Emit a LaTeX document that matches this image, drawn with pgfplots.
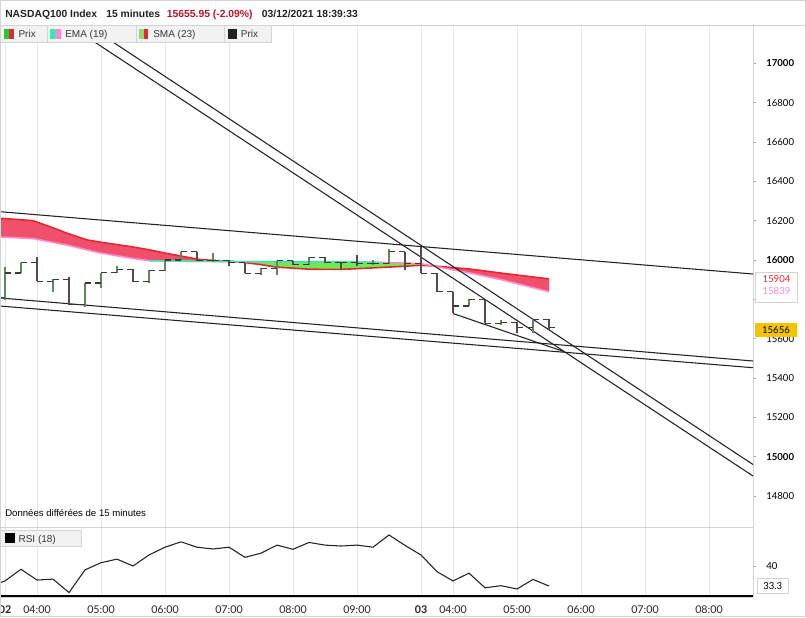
\documentclass[border=0pt]{standalone}
\usepackage{pgfplots}
\pgfplotsset{compat=1.18}
\usepackage{pgfplotstable}
\usepgfplotslibrary{fillbetween}
\usepackage{fontspec}
\setmainfont{Liberation Sans}
\newfontfamily\lato{Lato}

\definecolor{smared}{HTML}{E8262E}
\definecolor{emapink}{HTML}{FF8AC8}
\definecolor{bandred}{HTML}{F0506C}
\definecolor{bandgreen}{HTML}{6CEB52}
\definecolor{emateal}{HTML}{3DE8B0}
\definecolor{upbar}{HTML}{5B8A5B}
\definecolor{downbar}{HTML}{5E4646}
\definecolor{tickc}{HTML}{3A3A3A}
\definecolor{gridc}{HTML}{E6E6E6}
\definecolor{framec}{HTML}{D4D4D4}
\definecolor{legfill}{HTML}{F2F2F2}
\definecolor{hdrred}{HTML}{B5162B}
\definecolor{yell}{HTML}{F5C400}
\definecolor{txt}{HTML}{222222}
\definecolor{sgreen}{HTML}{3DBE3D}
\definecolor{smagreen}{HTML}{7BE86A}

% OHLC bars, rising (close >= open)
\pgfplotstableread{
i o h l c
-2 15807 15964 15797 15934
-1 15934 15985 15934 15985
1 15893 15903 15837 15903
3 15776 15883 15761 15883
4 15883 15935 15858 15935
5 15935 15970 15932 15954
7 15890 15949 15882 15946
8 15946 16000 15946 16000
9 16000 16042 16000 16042
11 15996 16034 15991 15996
14 15932 15958 15924 15958
15 15958 15996 15924 15996
17 15975 16014 15975 16014
21 15983 16000 15975 15983
22 15983 16054 15980 16042
27 15766 15800 15766 15800
29 15678 15695 15670 15683
31 15658 15698 15627 15698
}\upbars

% OHLC bars, falling
\pgfplotstableread{
i o h l c
0 15985 16015 15893 15893
2 15903 15914 15771 15776
6 15954 15954 15887 15890
10 16042 16042 15996 15996
12 15996 16000 15969 15986
13 15986 15986 15932 15932
16 15996 15996 15975 15975
18 16014 16014 15986 15986
19 15986 15986 15949 15986
20 15986 16025 15969 15983
23 16042 16042 15949 15980
24 15980 16068 15932 15932
25 15932 15932 15839 15839
26 15839 15839 15729 15766
28 15800 15800 15678 15678
30 15683 15686 15627 15658
32 15698 15698 15644 15656
}\downbars

% SMA (23)
\pgfplotstableread{
x y
-2.3125 16212
-0.25 16200
0.81 16169
1.88 16136
3.13 16102
3.94 16091
6 16066
7.06 16051
8.13 16033
9.13 16018
10.19 16002
12.69 15990
13.94 15977
14.94 15964
17.06 15953
18.94 15952
20.81 15959
22.69 15967
23.94 15973
24.75 15970
27.06 15954
29.13 15932
32 15904
}\smatab

% EMA (19)
\pgfplotstableread{
x y
-2.3125 16117
-0.25 16109
1.88 16076
3.94 16036
6 16008
7.06 15996
10.19 15993
14.94 15991
18.94 15991
21.44 15988
23.94 15982
25 15966
27.06 15934
29.13 15898
32 15839
}\ematab

% RSI (18)
\pgfplotstableread{
x y
-3 33.0
-2 35.0
-1 38.9
0 35.3
1 35.6
2 31.1
3 38.7
4 41.1
5 42.3
6 40.0
7 43.7
8 46.3
9 48.1
10 46.3
11 45.7
12 46.3
13 42.9
14 44.3
15 47.0
16 45.6
17 47.9
18 47.0
19 46.7
20 47.0
21 46.3
22 50.4
23 46.9
24 43.7
25 38.1
26 35.0
27 37.6
28 32.7
29 33.4
30 32.3
31 35.5
32 33.3
}\rsitab

\pgfplotsset{
  barv/.style={draw=none, forget plot, error bars/.cd, y dir=plus, y explicit, error mark=none,
     error bar style={draw=#1, line width=0.8pt}},
  barl/.style={draw=none, forget plot, error bars/.cd, x dir=minus, x fixed=0.38, error mark=none,
     error bar style={draw=tickc, line width=0.8pt}},
  barr/.style={draw=none, forget plot, error bars/.cd, x dir=plus, x fixed=0.38, error mark=none,
     error bar style={draw=tickc, line width=0.8pt}},
}

\begin{document}
\begin{tikzpicture}

% ---------------- price panel
\begin{axis}[
  at={(0pt,-19.5pt)}, anchor=north west, scale only axis,
  width=564.75pt, height=375.75pt,
  xmin=-2.3125, xmax=44.75, ymin=14642.6, ymax=17189.6,
  axis line style={draw=framec, line width=0.75pt},
  xtick={-2,0,4,8,12,16,20,24,26,30,34,38,42}, xticklabels={},
  xmajorgrids, grid style={draw=gridc, line width=0.75pt},
  xtick style={draw=none},
  ytick={14800,15000,15200,15400,15600,15800,16000,16200,16400,16600,16800,17000},
  yticklabels={14800,\textbf{15000},15200,15400,15600,15800,\textbf{16000},16200,16400,16600,16800,\textbf{17000}},
  ytick pos=right, yticklabel pos=right,
  tick align=outside, major tick length=2.25pt,
  ytick style={draw=gray!70, line width=0.5pt},
  yticklabel style={font=\lato\fontsize{7.2}{8}\selectfont, text=black, anchor=west, inner sep=0pt, xshift=7.5pt},
]
\addplot[draw=none, name path=sma, forget plot] table[x=x,y=y] {\smatab};
\addplot[draw=none, name path=ema, forget plot] table[x=x,y=y] {\ematab};
\addplot[draw=none] fill between[of=sma and ema, split,
   every segment no 0/.style={fill=bandred},
   every segment no 1/.style={fill=bandgreen},
   every segment no 2/.style={fill=bandred}];
\addplot[smared, line width=1.2pt] table[x=x,y=y] {\smatab};
\addplot[emapink, line width=1.2pt] table[x=x,y=y] {\ematab};
\addplot[emateal, line width=1.2pt, restrict x to domain=6.9:21.6] table[x=x,y=y] {\ematab};

% trend lines
\addplot[txt, line width=0.8pt] coordinates {(-2.3125,16245.5) (44.75,15928.8)};
\addplot[txt, line width=0.8pt] coordinates {(-2.3125,15807) (44.75,15486.5)};
\addplot[txt, line width=0.8pt] coordinates {(-2.3125,15766) (44.75,15452.4)};
\addplot[txt, line width=0.8pt] coordinates {(2.08,17189.6) (44.75,14901.8)};
\addplot[txt, line width=0.8pt] coordinates {(3.225,17189.6) (44.75,14960.3)};
\addplot[txt, line width=0.8pt] coordinates {(26,15728) (32.91,15535)};

% OHLC bars
\addplot[barv=upbar] table[x=i, y=l, y error expr=\thisrow{h}-\thisrow{l}] {\upbars};
\addplot[barl] table[x=i, y=o] {\upbars};
\addplot[barr] table[x=i, y=c] {\upbars};
\addplot[barv=downbar] table[x=i, y=l, y error expr=\thisrow{h}-\thisrow{l}] {\downbars};
\addplot[barl] table[x=i, y=o] {\downbars};
\addplot[barr] table[x=i, y=c] {\downbars};
\end{axis}

% ---------------- RSI panel
\begin{axis}[
  at={(0pt,-395.25pt)}, anchor=north west, scale only axis,
  width=564.75pt, height=52.5pt,
  xmin=-2.3125, xmax=44.75, ymin=29.61, ymax=53.07,
  axis line style={draw=framec, line width=0.75pt},
  xtick={-2,0,4,8,12,16,20,24,26,30,34,38,42},
  xticklabels={\textbf{02},04:00,05:00,06:00,07:00,08:00,09:00,\textbf{03},04:00,05:00,06:00,07:00,08:00},
  xmajorgrids, grid style={draw=gridc, line width=0.75pt},
  xtick style={draw=none},
  xticklabel style={font=\lato\fontsize{8}{9}\selectfont, text=txt, inner sep=0pt, yshift=-4pt},
  ytick={40}, yticklabels={40},
  ytick pos=right, yticklabel pos=right,
  tick align=outside, major tick length=2.25pt,
  ytick style={draw=gray!70, line width=0.5pt},
  yticklabel style={font=\lato\fontsize{7.2}{8}\selectfont, text=black, anchor=west, inner sep=0pt, xshift=7.5pt},
]
\addplot[txt, line width=0.8pt] table[x=x,y=y] {\rsitab};
\addplot[black, line width=1.1pt] coordinates {(-2.3125,30) (44.75,30)};
\end{axis}

% ---------------- overlays (pixel coordinates)
\begin{scope}[x=0.75pt, y=-0.75pt]
  % header
  \fill[white] (0,0) rectangle (806,25.5);
  \draw[framec, line width=0.75pt] (0,25.5) -- (806,25.5);
  \begin{scope}[every node/.style={inner sep=0pt, anchor=base west, font=\bfseries\fontsize{7.75}{9}\selectfont, text=txt}]
    \node at (5,18) {NASDAQ100 Index};
    \node at (106,18) {15 minutes};
    \node[text=hdrred] at (166.7,18) {15655.95 (-2.09\%)};
    \node at (261.7,18) {03/12/2021 18:39:33};
  \end{scope}
  % legend row
  \begin{scope}[every node/.style={inner sep=0pt, anchor=base west, font=\fontsize{7.5}{9}\selectfont, text=txt!90}]
    \filldraw[fill=legfill, draw=framec, line width=0.6pt] (0,25.5) rectangle (47.7,42.5);
    \fill[sgreen] (4,29.3) rectangle (9,39.3); \fill[smared] (9,29.3) rectangle (14,39.3);
    \node at (18.3,37.8) {Prix};
    \filldraw[fill=legfill, draw=framec, line width=0.6pt] (47.7,25.5) rectangle (136,42.5);
    \fill[emateal] (50,29.3) rectangle (55.3,39.3); \fill[emapink] (55.3,29.3) rectangle (60.7,39.3);
    \node at (65,37.8) {EMA (19)};
    \filldraw[fill=legfill, draw=framec, line width=0.6pt] (136,25.5) rectangle (224,42.5);
    \fill[smagreen] (139.3,29.3) rectangle (143.8,39.3); \fill[smared] (143.8,29.3) rectangle (148.3,39.3);
    \node at (153,37.8) {SMA (23)};
    \filldraw[fill=legfill, draw=framec, line width=0.6pt] (224,25.5) rectangle (271.7,42.5);
    \fill[txt] (227.7,29.3) rectangle (236.7,39.3);
    \node at (240.7,37.8) {Prix};
    % RSI legend
    \filldraw[fill=legfill, draw=framec, line width=0.6pt] (0,530) rectangle (81.7,546.7);
    \fill[black] (5,533.3) rectangle (15,543.3);
    \node at (18.3,542) {RSI (18)};
    % delayed data note
    \node[font=\fontsize{7.2}{9}\selectfont, text=black] at (5,516.5) {Données différées de 15 minutes};
  \end{scope}
  % right price labels
  \filldraw[fill=white, draw=framec, line width=0.6pt] (755.5,272.5) rectangle (797.5,302);
  \node[inner sep=0pt, font=\lato\fontsize{7.2}{8}\selectfont, text=smared] at (776.5,279.5) {15904};
  \node[inner sep=0pt, font=\lato\fontsize{7.2}{8}\selectfont, text=emapink] at (776.5,291.5) {15839};
  \fill[yell] (755,322.5) rectangle (797.3,337.3);
  \node[inner sep=0pt, font=\lato\fontsize{7.2}{8}\selectfont, text=black] at (776,330) {15656};
  \filldraw[fill=white, draw=framec, line width=0.6pt] (757.5,578.5) rectangle (788,593.5);
  \node[inner sep=0pt, font=\lato\fontsize{7.2}{8}\selectfont, text=black] at (772.8,586) {33.3};
  % outer frame
  \draw[framec, line width=0.75pt] (0.4,0.4) rectangle (805.6,616.6);
\end{scope}
\pgfresetboundingbox
\useasboundingbox (0pt,0pt) rectangle (604.5pt,-462.75pt);
\end{tikzpicture}
\end{document}
